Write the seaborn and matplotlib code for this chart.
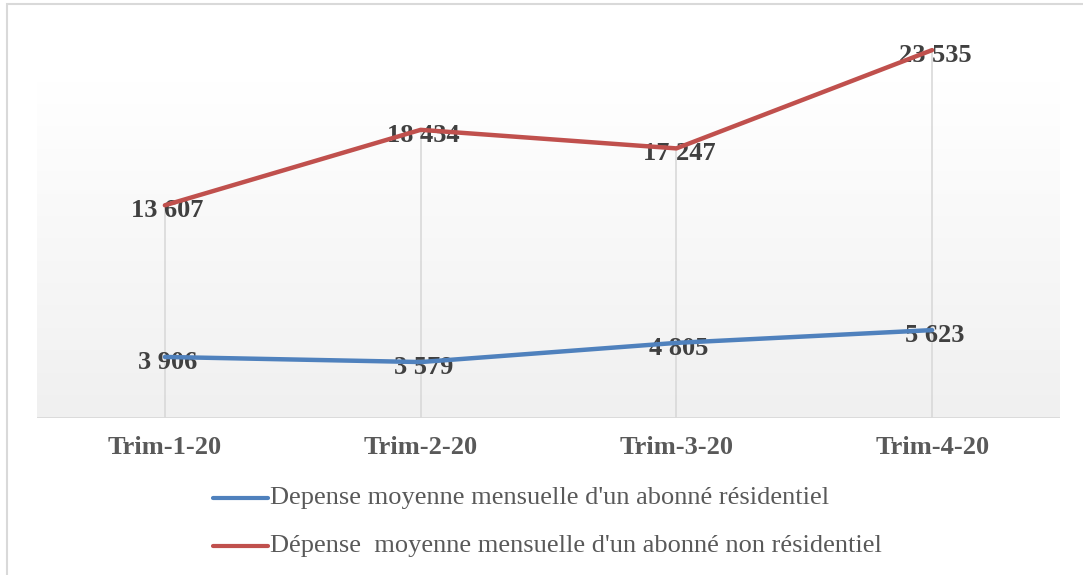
import numpy as np
import pandas as pd
import seaborn as sns
import matplotlib.pyplot as plt
from matplotlib.colors import LinearSegmentedColormap
from matplotlib.patches import Rectangle

trimestres = ['Trim-1-20', 'Trim-2-20', 'Trim-3-20', 'Trim-4-20']
residentiel = [3906, 3579, 4805, 5623]
non_residentiel = [13607, 18434, 17247, 23535]
serie_res = "Depense moyenne mensuelle d'un abonné résidentiel"
serie_non = "Dépense  moyenne mensuelle d'un abonné non résidentiel"

df = pd.DataFrame({
    'trim': trimestres * 2,
    'x': list(range(4)) * 2,
    'valeur': residentiel + non_residentiel,
    'serie': [serie_res] * 4 + [serie_non] * 4,
})

sns.set_style('white')
plt.rcParams['font.family'] = ['Liberation Serif', 'DejaVu Serif']

fig = plt.figure(figsize=(10.83, 5.75), dpi=100)
ax = fig.add_axes([37 / 1083, 157 / 575, 1023 / 1083, 408 / 575])

ymax = 26100
ax.set_xlim(-0.5, 3.5)
ax.set_ylim(0, ymax)

# fond en degradé
grad = np.linspace(0, 1, 256).reshape(-1, 1)
cmap = LinearSegmentedColormap.from_list('g', ['#f0f0f0', '#ffffff'])
ax.imshow(grad, cmap=cmap, aspect='auto', origin='lower',
          extent=[-0.5, 3.5, 0, 21500], zorder=0)

# lignes de projection
for i in range(4):
    ax.plot([i, i], [0, max(residentiel[i], non_residentiel[i])],
            color='#d9d9d9', lw=1.2, zorder=1)

# etiquettes (sous les courbes, comme dans Excel)
for vals in (residentiel, non_residentiel):
    for i, v in enumerate(vals):
        ax.annotate(f'{v:,}'.replace(',', ' '), (i, v), xytext=(2, -4),
                    textcoords='offset points', ha='center', va='center',
                    fontsize=19, fontweight='bold', color='#404040', zorder=2)

sns.lineplot(data=df, x='x', y='valeur', hue='serie',
             palette=['#4f81bd', '#c0504d'], linewidth=3.2, ax=ax,
             legend=False, zorder=3)

ax.axhline(0, color='#d9d9d9', lw=2, zorder=2)
for s in ax.spines.values():
    s.set_visible(False)
ax.set_yticks([])
ax.set_xticks(range(4))
ax.set_xticklabels(trimestres, fontsize=19, fontweight='bold', color='#595959')
ax.tick_params(axis='x', length=0, pad=13)
ax.set_xlabel('')
ax.set_ylabel('')

# legende
fig.lines.append(plt.Line2D([213 / 1083, 268 / 1083], [1 - 498 / 575] * 2,
                            color='#4f81bd', lw=3, transform=fig.transFigure))
fig.lines.append(plt.Line2D([213 / 1083, 268 / 1083], [1 - 546 / 575] * 2,
                            color='#c0504d', lw=3, transform=fig.transFigure))
fig.text(270 / 1083, 1 - 498 / 575, serie_res, fontsize=19, color='#595959', va='center')
fig.text(270 / 1083, 1 - 546 / 575, serie_non, fontsize=19, color='#595959', va='center')

# cadre
fig.patches.append(Rectangle((7 / 1083, -0.01), 1.1, 1 - 3.5 / 575 + 0.01,
                             transform=fig.transFigure, fill=False,
                             edgecolor='#d9d9d9', lw=1.5))

fig.savefig('out.png', dpi=100)
